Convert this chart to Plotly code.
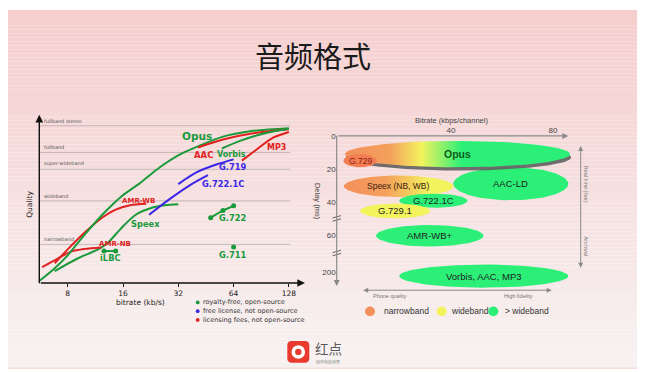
import numpy as np
import plotly.graph_objects as go

# page is 645x372; browser body margin shifts the figure by 8px
OFF = 8
W, H = 645 - OFF, 372 - OFF

# ---------------- left chart data: quality vs bitrate ----------------
quality_levels = ["narrowband", "wideband", "super-wideband", "fullband", "fullband stereo"]
quality_level_q = [39, 83, 115, 132, 159]
bitrate_ticks = [8, 16, 32, 64, 128]

opus_kbps = [5.6, 6.8, 8, 9.9, 12.8, 15.8, 19.8, 25.4, 32.7, 42, 56, 78.6, 128]
opus_q = [2, 15, 28, 49, 72, 88, 101, 117, 130, 139, 148, 153.5, 156.5]
speex_kbps = [6.8, 9.1, 11.7, 13.3, 15.4, 18.6, 23, 27.1, 32]
speex_q = [12, 25, 34, 41, 54, 68.5, 76, 78.5, 79.5]
amrnb_kbps = [5.8, 7.1, 8.4, 9.9, 12.2]
amrnb_q = [16, 25, 32, 34.5, 36]
amrwb_kbps = [6.8, 8, 9.9, 12.3, 14.5, 17.5, 21.4]
amrwb_q = [20, 34, 51, 66, 74, 78.5, 80]
aac_kbps = [41, 56, 85.8, 128]
aac_q = [137, 145, 152, 155.5]
vorbis_kbps = [55.3, 69.3, 97.2, 128]
vorbis_q = [136, 143.7, 152, 156]
mp3_kbps = [71, 85.8, 105, 128]
mp3_q = [123.7, 135.3, 147, 152.7]
g719_kbps = [32, 40.4, 52, 64]
g719_q = [100, 112, 120, 125]
g7221c_kbps = [22.2, 28.8, 37.1, 46.4]
g7221c_q = [69, 85, 99, 109]
g722_kbps = [48, 56, 64]
g722_q = [66, 73.3, 78]
g711_kbps = [64]
g711_q = [36.3]
ilbc_kbps = [12.6, 14.6]
ilbc_q = [32.3, 32.3]

codec_labels = ["Opus", "AAC", "Vorbis", "MP3", "G.719", "G.722.1C", "AMR-WB",
                "Speex", "AMR-NB", "iLBC", "G.722", "G.711"]
codec_label_kbps = [40.3, 43.8, 62.5, 109.8, 63.8, 56.2, 19.4, 21.1, 14.5, 13.6, 63.8, 63.8]
codec_label_q = [148.7, 129.3, 130.3, 137, 117, 100.3, 83, 59.3, 39.3, 25.3, 65.3, 28]
codec_label_kind = ["free", "fee", "free", "fee", "lic", "lic", "fee", "free", "fee", "free", "free", "free"]

license_kinds = ["free", "lic", "fee"]
license_texts = ["royalty-free, open-source", "free license, not open-source",
                 "licensing fees, not open-source"]

# ---------------- right chart data: delay vs bitrate ----------------
ell_names = ["AAC-LD", "Opus", "G.729", "Speex (NB, WB)", "G.722.1C", "G.729.1", "AMR-WB+",
             "Vorbis, AAC, MP3"]
ell_rate_lo = [40.9, -1.6, -2.2, -2.0, 19.7, 4.3, 10.6, 19.7]
ell_rate_hi = [86.0, 86.7, 10.9, 40.9, 46.5, 31.8, 52.7, 86.0]
ell_delay_lo = [18.6, 2.6, 10.6, 23.6, 34.6, 40.6, 53.6, 77.6]
ell_delay_hi = [38.6, 18.6, 18.6, 36.6, 43.2, 49.6, 66.6, 91.6]
ell_band = ["wide+", "opus", "narrow", "speex", "wide+", "wide", "wide+", "wide+"]

rate_ticks = [40, 80]
delay_tick_pos = [0, 20, 40, 60, 82.2]
delay_tick_text = ["0", "20", "40", "60", "200"]
band_legend = ["narrowband", "wideband", "> wideband"]

# ---------------- styling ----------------
GREEN, BLUE, RED = "#1b9a3c", "#3a26e6", "#e0211d"
KIND_COL = {"free": GREEN, "lic": BLUE, "fee": RED}
C_OR, C_YE, C_GR = "#f3905c", "#f3f35e", "#2cef78"
FILL = {"wide+": C_GR, "wide": C_YE, "narrow": "#f27e52"}
GRAD = {
    "opus": [[0, C_OR], [0.2, "#f4a05c"], [0.34, C_YE], [0.52, C_GR], [1, C_GR]],
    "speex": [[0, C_OR], [0.38, "#f4a05c"], [0.78, C_YE], [1, C_YE]],
}
LABEL_SIZE = {"Opus": 10.5, "AMR-WB": 7, "AMR-NB": 7, "AAC": 8.5, "Vorbis": 8, "MP3": 8}


def P(px, py):
    """page pixel -> paper fraction"""
    return (px - OFF) / W, 1 - (py - OFF) / H


def l2_at(px):
    return 3 + (px - 67.7) / 55.3


LX0, LX1, LY0, LY1 = 30, 310, 110, 282


def rate_at(px):
    return (px - 349) / 2.55


def delay_at(py):
    return (py - 134) / 1.667


RX0, RX1, RY0, RY1 = 336.7, 600, 133.3, 300

fig = go.Figure()


def add_line(xs, ys, col):
    fig.add_trace(go.Scatter(x=xs, y=ys, mode="lines",
                             line=dict(color=col, width=2, shape="spline", smoothing=0.8),
                             xaxis="x", yaxis="y"))


add_line(speex_kbps, speex_q, GREEN)
add_line(amrnb_kbps, amrnb_q, RED)
add_line(amrwb_kbps, amrwb_q, RED)
add_line(g7221c_kbps, g7221c_q, BLUE)
add_line(g719_kbps, g719_q, BLUE)
add_line(opus_kbps, opus_q, GREEN)
add_line(aac_kbps, aac_q, RED)
add_line(vorbis_kbps, vorbis_q, GREEN)
add_line(mp3_kbps, mp3_q, RED)
fig.add_trace(go.Scatter(x=g722_kbps, y=g722_q, mode="lines+markers", line=dict(color=GREEN, width=2),
                         marker=dict(color=GREEN, size=5), xaxis="x", yaxis="y"))
fig.add_trace(go.Scatter(x=g711_kbps, y=g711_q, mode="markers", marker=dict(color=GREEN, size=5),
                         xaxis="x", yaxis="y"))
fig.add_trace(go.Scatter(x=ilbc_kbps, y=ilbc_q, mode="lines+markers", line=dict(color=GREEN, width=2),
                         marker=dict(color=GREEN, size=5), xaxis="x", yaxis="y"))

# right chart ellipses
t = np.linspace(0, 2 * np.pi, 120)
for name, xl, xh, yl, yh, band in zip(ell_names, ell_rate_lo, ell_rate_hi, ell_delay_lo, ell_delay_hi, ell_band):
    cx, cy, a, b = (xl + xh) / 2, (yl + yh) / 2, (xh - xl) / 2, (yh - yl) / 2
    ex, ey = cx + a * np.cos(t), cy + b * np.sin(t)
    if band == "opus":
        fig.add_trace(go.Scatter(x=ex + 0.4, y=ey + 2.0, mode="lines", fill="toself", line=dict(width=0),
                                 fillcolor="rgba(95,95,95,0.9)", xaxis="x2", yaxis="y2"))
    kw = dict(fillgradient=dict(type="horizontal", colorscale=GRAD[band])) if band in GRAD else dict(fillcolor=FILL[band])
    fig.add_trace(go.Scatter(x=ex, y=ey, mode="lines", fill="toself", line=dict(width=0),
                             xaxis="x2", yaxis="y2", **kw))

shapes, anns = [], []


def text(px, py, s, size, color, family="Liberation Sans", xanchor="center", angle=0):
    x, y = P(px, py)
    anns.append(dict(x=x, y=y, xref="paper", yref="paper", text=s, showarrow=False, textangle=angle,
                     xanchor=xanchor, yanchor="middle", font=dict(size=size, color=color, family=family)))


def arrow(hx_, hy_, tx_, ty_, color, width, both=False, size=1.0):
    x, y = P(hx_, hy_)
    d = dict(x=x, y=y, xref="paper", yref="paper", ax=tx_ - hx_, ay=ty_ - hy_, text="", showarrow=True,
             arrowhead=2, arrowsize=size, arrowwidth=width, arrowcolor=color)
    if both:
        d.update(arrowside="end+start", startarrowhead=2, startarrowsize=size)
    anns.append(d)


def prect(x0p, y0p, x1p, y1p, color, kind="rect", layer="above"):
    x0, y0 = P(x0p, y0p)
    x1, y1 = P(x1p, y1p)
    shapes.append(dict(type=kind, xref="paper", yref="paper", x0=x0, x1=x1, y0=y1, y1=y0, layer=layer,
                       line=dict(width=0), fillcolor=color))


# background gradient bands
top, bot = np.array([246, 206, 206]), np.array([248, 243, 243])
for y in range(6, 368, 4):
    f = (y - 6) / 362
    c = top + (bot - top) * f
    prect(0, y, 641, min(y + 4, 368), "rgb(%d,%d,%d)" % tuple(c.astype(int)), layer="below")
prect(0, 367.5, 641, 369, "#f6dcd6", layer="below")

# quality level lines
for lvl, q in zip(quality_levels, quality_level_q):
    shapes.append(dict(type="line", xref="x", yref="y", x0=5.65, x1=130, y0=q, y1=q, layer="below",
                       line=dict(color="#b9acac", width=0.8)))
    anns.append(dict(x=np.log10(5.8), y=q, xref="x", yref="y", text=lvl, showarrow=False, xanchor="left",
                     yanchor="bottom", font=dict(size=5, color="#555", family="DejaVu Sans")))

# codec labels left
for lab, kb, q, kind in zip(codec_labels, codec_label_kbps, codec_label_q, codec_label_kind):
    anns.append(dict(x=np.log10(kb), y=q, xref="x", yref="y", text="<b>%s</b>" % lab, showarrow=False,
                     xanchor="center", yanchor="middle",
                     font=dict(size=LABEL_SIZE.get(lab, 8.3), color=KIND_COL[kind], family="DejaVu Sans")))

# left axes arrows & titles
arrow(39.3, 112, 39.3, 282, "#111", 1.4, size=1.1)
arrow(305, 282, 39.3, 282, "#111", 1.4, size=1.1)
text(30, 203, "Quality", 7.5, "#222", "DejaVu Sans", angle=-90)
text(140, 302, "bitrate (kb/s)", 7.5, "#222", "DejaVu Sans")

# left legend
for i, (kind, txt) in enumerate(zip(license_kinds, license_texts)):
    cyp = 301.7 + 8.8 * i
    prect(195.8, cyp - 1.9, 199.6, cyp + 1.9, KIND_COL[kind], kind="circle")
    text(200.5, cyp, txt, 6.5, "#333", "DejaVu Sans", xanchor="left")

# right chart labels
for name, xl, xh, yl, yh, band in zip(ell_names, ell_rate_lo, ell_rate_hi, ell_delay_lo, ell_delay_hi, ell_band):
    cx, cy = (xl + xh) / 2, (yl + yh) / 2
    if name == "Opus":
        txt, col, sz = "<b>Opus</b>", "#0b5e1a", 10.5
    elif name == "G.729":
        txt, col, sz = name, "#8e1b12", 8.5
    elif name.startswith("Speex"):
        txt, col, sz = name, "#3a2010", 8.5
    else:
        txt, col, sz = name, "#1e1e1e", 9.5
    anns.append(dict(x=cx, y=cy, xref="x2", yref="y2", text=txt, showarrow=False, xanchor="center",
                     yanchor="middle", font=dict(size=sz, color=col, family="Liberation Sans")))

AX = "#8a8a8a"
arrow(568.3, 133.3, 336.7, 133.3, AX, 1.2)
arrow(336.7, 285, 336.7, 133.3, AX, 1.2)
arrow(580.7, 266.7, 580.7, 143.3, AX, 1, both=True)
arrow(551.7, 289.3, 361.7, 289.3, AX, 1, both=True)
# axis break marks
for yb in (216.7, 251.7):
    for d in (-1.6, 1.6):
        x0, y0 = P(332.5, yb + d + 1.2)
        x1, y1 = P(341, yb + d - 1.2)
        shapes.append(dict(type="line", xref="paper", yref="paper", x0=x0, x1=x1, y0=y0, y1=y1,
                           line=dict(color="#666", width=1)))

text(451.7, 117.5, "Bitrate (kbps/channel)", 7.5, "#444")
text(317, 199, "Delay (ms)", 7.5, "#444", angle=90)
text(586, 181.7, "Real time (live)", 5.5, "#777", angle=90)
text(586, 245, "Archival", 5.5, "#777", angle=90)
text(390, 295.5, "Phone quality", 5.5, "#777")
text(518.3, 295.5, "High fidelity", 5.5, "#777")

# right legend
for name, col, cxp, tx in zip(band_legend, [C_OR, C_YE, C_GR], [370, 441.7, 493.3], [381.5, 448.5, 503]):
    prect(cxp - 5, 305.7, cxp + 5, 315.7, col, kind="circle")
    text(tx, 310.7, name, 8.5, "#333", xanchor="left")

# title
text(313, 51, "音频格式", 29, "#1a1a1a", "Noto Sans CJK SC")


# logo
def rr_path(x0, y0, x1, y1, r):
    pts = [("M", x0 + r, y0), ("L", x1 - r, y0), ("Q", x1, y0, x1, y0 + r), ("L", x1, y1 - r),
           ("Q", x1, y1, x1 - r, y1), ("L", x0 + r, y1), ("Q", x0, y1, x0, y1 - r), ("L", x0, y0 + r),
           ("Q", x0, y0, x0 + r, y0)]
    s = ""
    for p in pts:
        vals = p[1:]
        coords = []
        for i in range(0, len(vals), 2):
            a, b = P(vals[i], vals[i + 1])
            coords.append("%.5f,%.5f" % (a, b))
        s += p[0] + " " + " ".join(coords) + " "
    return s + "Z"


shapes.append(dict(type="path", xref="paper", yref="paper", path=rr_path(287.3, 340.7, 309.3, 362.7, 4.5),
                   fillcolor="#e83a2e", line=dict(width=0)))
for r, col in [(6.8, "white"), (3.2, "#e83a2e")]:
    prect(298.3 - r, 351.7 - r, 298.3 + r, 351.7 + r, col, kind="circle")
text(313, 347.5, "红点", 13.5, "#5a5a5a", "Noto Sans CJK SC", xanchor="left")
text(313.5, 361.5, "创作你的世界", 4, "#888", "Noto Sans CJK SC", xanchor="left")

fig.update_layout(
    width=W, height=H, autosize=False, margin=dict(l=0, r=0, t=0, b=0),
    paper_bgcolor="white", plot_bgcolor="rgba(0,0,0,0)", showlegend=False,
    shapes=shapes, annotations=anns,
    xaxis=dict(type="log", domain=[(LX0 - OFF) / W, (LX1 - OFF) / W], anchor="y",
               range=[l2_at(LX0) * np.log10(2), l2_at(LX1) * np.log10(2)],
               tickvals=bitrate_ticks, ticktext=[str(v) for v in bitrate_ticks], ticks="outside", ticklen=3,
               tickcolor="#111", showgrid=False, zeroline=False, showline=False,
               tickfont=dict(size=7.5, color="#222", family="DejaVu Sans")),
    yaxis=dict(domain=[1 - (LY1 - OFF) / H, 1 - (LY0 - OFF) / H], anchor="x", range=[282 - LY1, 282 - LY0],
               showgrid=False, zeroline=False, showticklabels=False, ticks=""),
    xaxis2=dict(domain=[(RX0 - OFF) / W, (RX1 - OFF) / W], anchor="y2", side="top",
                range=[rate_at(RX0), rate_at(RX1)],
                tickvals=rate_ticks, ticks="", showgrid=False, zeroline=False, showline=False,
                tickfont=dict(size=8, color="#444", family="Liberation Sans")),
    yaxis2=dict(domain=[1 - (RY1 - OFF) / H, 1 - (RY0 - OFF) / H], anchor="x2",
                range=[delay_at(RY1), delay_at(RY0)],
                tickvals=delay_tick_pos, ticktext=delay_tick_text, ticks="", showgrid=False, zeroline=False,
                showline=False, tickfont=dict(size=8, color="#444", family="Liberation Sans")),
)
for tr in fig.data:
    tr.hoverinfo = "skip"

fig.write_html("out.html")
